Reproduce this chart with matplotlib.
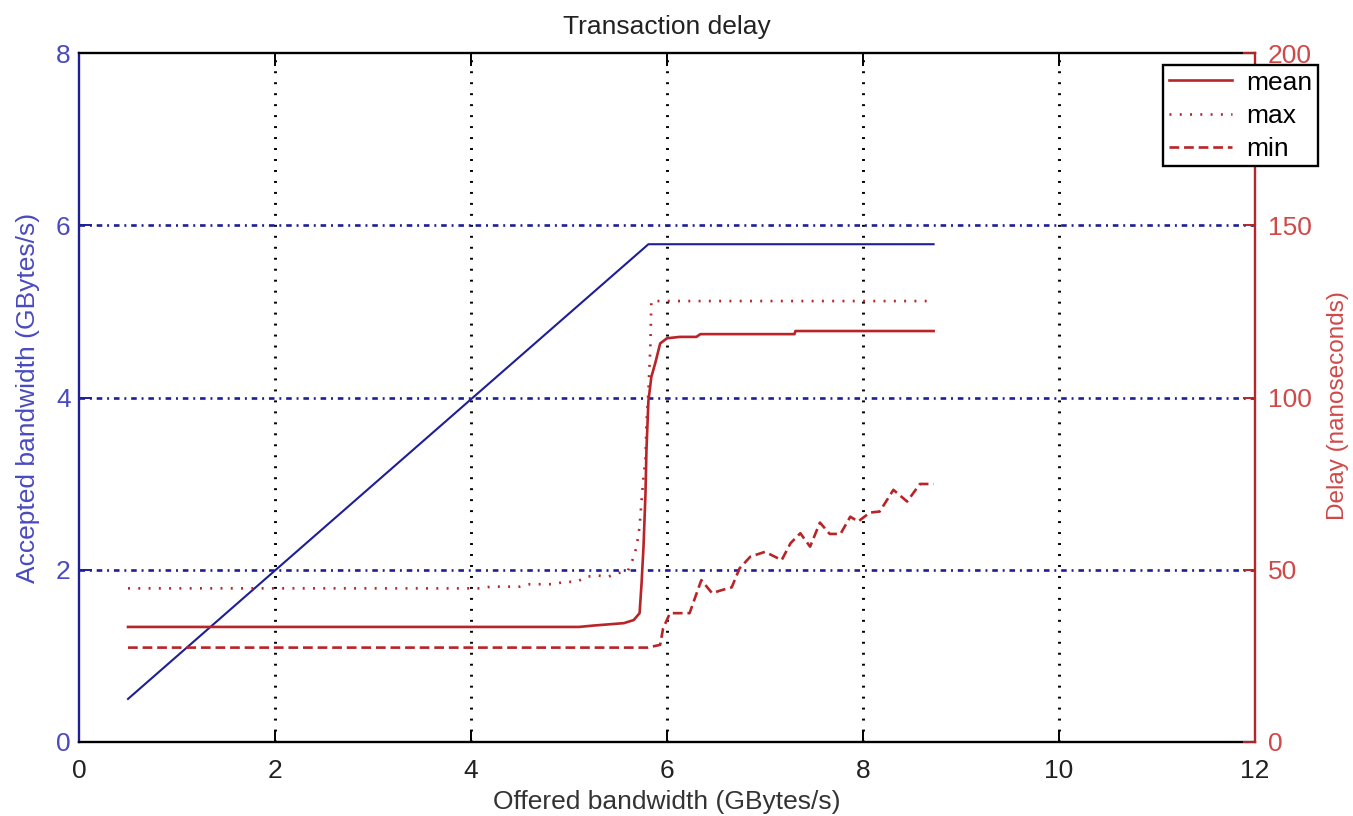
import matplotlib
matplotlib.use("Agg")
import matplotlib.pyplot as plt

# ---- data ----
bw_x = [0.5, 5.81, 8.72]
bw_y = [0.5, 5.78, 5.78]

max_x = [0.5, 4.1, 4.2, 4.5, 4.6, 4.85, 4.95, 5.08, 5.18, 5.3, 5.4, 5.5, 5.6,
         5.65, 5.69, 5.72, 5.74, 5.76, 5.78, 5.79, 5.81, 5.83, 5.84, 8.65]
max_y = [44.6, 44.6, 45.1, 45.1, 45.8, 45.8, 46.5, 46.5, 48.0, 48.3, 48.0, 49.0, 49.6,
         53.0, 56.7, 62.5, 70.0, 77.0, 82.0, 92.5, 102.0, 114.7, 128.0, 128.0]

mean_x = [0.5, 5.1, 5.25, 5.56, 5.66, 5.72, 5.74, 5.76, 5.78, 5.79, 5.81, 5.84,
          5.88, 5.93, 6.0, 6.13, 6.3, 6.34, 7.3, 7.31, 8.72]
mean_y = [33.4, 33.4, 33.8, 34.5, 35.4, 37.4, 46.0, 56.7, 72.0, 84.7, 99.0, 106.0,
          110.0, 115.7, 117.2, 117.6, 117.6, 118.4, 118.4, 119.3, 119.3]

min_x = [0.5, 5.8, 5.93, 5.96, 6.03, 6.23, 6.35, 6.46, 6.56, 6.66, 6.74, 6.85, 7.0,
         7.17, 7.26, 7.36, 7.46, 7.56, 7.66, 7.77, 7.87, 7.95, 8.07, 8.17, 8.31,
         8.45, 8.58, 8.72]
min_y = [27.4, 27.4, 28.2, 33.0, 37.4, 37.4, 47.0, 43.2, 44.1, 44.9, 50.4, 53.8, 55.2,
         52.8, 57.7, 60.6, 56.7, 63.7, 60.4, 60.4, 65.4, 64.0, 66.6, 66.9, 73.2,
         69.8, 74.9, 74.9]

x_ticks = [0, 2, 4, 6, 8, 10, 12]
left_ticks = [0, 2, 4, 6, 8]
right_ticks = [0, 50, 100, 150, 200]

# ---- style ----
plt.rcParams['font.family'] = ['Liberation Sans', 'DejaVu Sans']
plt.rcParams['lines.scale_dashes'] = False
FS = 19
BLUE = '#1e1e96'
BLUE_T = '#4a4ac0'
RED = '#b82428'
RED_T = '#d04848'

fig = plt.figure(figsize=(13.53, 8.16), dpi=100)
ax = fig.add_axes([0.0584, 0.0907, 0.9276 - 0.0584, 0.935 - 0.0907])
ax2 = ax.twinx()

ax.plot(bw_x, bw_y, color=BLUE, lw=1.5, zorder=3)
ax.set_xlim(0, 12)
ax.set_ylim(0, 8)
ax.set_xticks(x_ticks)
ax.set_yticks(left_ticks)

# grids
for xv in x_ticks[1:-1]:
    ax.axvline(xv, color='black', lw=2.1, linestyle=(0, (1.4, 6.5)), zorder=1)
for yv in left_ticks[1:-1]:
    ax.axhline(yv, color=BLUE, lw=1.9, linestyle=(0, (4, 3.5, 1.4, 3.5)), zorder=1)

l_mean, = ax2.plot(mean_x, mean_y, color=RED, lw=1.9, label='mean')
l_max, = ax2.plot(max_x, max_y, color=RED, lw=1.9, linestyle=(0, (1.4, 6.0)), label='max')
l_min, = ax2.plot(min_x, min_y, color=RED, lw=1.9, linestyle=(0, (7, 3.5)), label='min')
ax2.set_ylim(0, 200)
ax2.set_yticks(right_ticks)

# spines
for s in ['top', 'bottom']:
    ax.spines[s].set_color('black')
    ax.spines[s].set_linewidth(1.7)
ax.spines['left'].set_color(BLUE)
ax.spines['left'].set_linewidth(1.7)
ax.spines['right'].set_visible(False)
for s in ['top', 'bottom', 'left']:
    ax2.spines[s].set_visible(False)
ax2.spines['right'].set_color(RED)
ax2.spines['right'].set_linewidth(1.7)

ax.tick_params(axis='x', direction='in', length=9, width=1.4, top=True,
               labelsize=FS, colors='black', labelcolor='#222222', pad=12)
ax.tick_params(axis='y', direction='in', length=9, width=1.4, right=False,
               labelsize=FS, color=BLUE, labelcolor=BLUE_T, pad=6)
ax2.tick_params(axis='y', direction='in', length=9, width=1.4,
                labelsize=FS, color=RED, labelcolor=RED_T, pad=9)

ax.set_xlabel('Offered bandwidth (GBytes/s)', fontsize=FS, color='#333333', labelpad=5)
ax.set_ylabel('Accepted bandwidth (GBytes/s)', fontsize=FS, color=BLUE_T,
              va='center')
ax.yaxis.set_label_coords(-0.0434, 0.5)
ax2.set_ylabel('Delay (nanoseconds)', fontsize=17.5, color=RED_T, va='center')
ax2.yaxis.set_label_coords(1.0706, 0.488)
ax.set_title('Transaction delay', fontsize=FS, color='#222222', pad=14)

leg = ax2.legend(handles=[l_mean, l_max, l_min], loc='upper right',
                 bbox_to_anchor=(0.974, 0.920), bbox_transform=fig.transFigure,
                 fontsize=FS, fancybox=False, framealpha=1, edgecolor='black',
                 handlelength=2.4, borderpad=0.2, labelspacing=0.35,
                 handletextpad=0.55, borderaxespad=0)
leg.get_frame().set_linewidth(1.7)

fig.savefig('out.png', dpi=100)
